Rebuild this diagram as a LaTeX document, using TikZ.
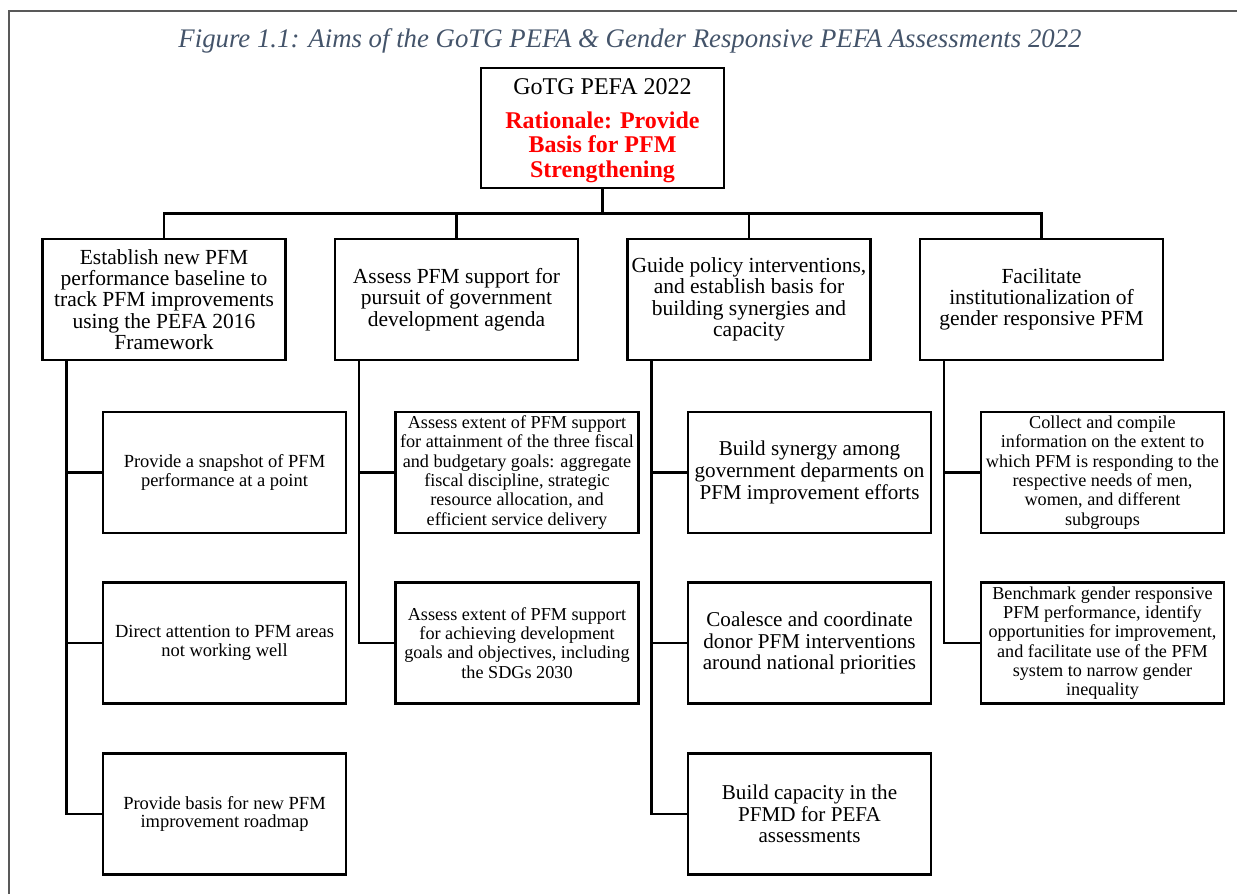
\documentclass[tikz,border=0pt]{standalone}
\usepackage{fontspec}
\setmainfont{Liberation Serif}
\usepackage{tikz}
\usetikzlibrary{positioning}
\definecolor{Caption}{HTML}{44546A}
\definecolor{Frame}{HTML}{595959}
\definecolor{Alert}{HTML}{FF0000}
\newcommand{\alert}[1]{\textcolor{Alert}{\bfseries #1}}

\begin{document}
\begin{tikzpicture}[x=1pt,y=-1pt,every node/.style={align=center,inner sep=1pt},
    box/.style={draw=black,line width=2.5pt,fill=white,minimum width=243pt,minimum height=121pt},
    aim/.style={box,font=\fontsize{21.5}{21.3}\selectfont},
    taskA/.style={box,font=\fontsize{18.5}{18.4}\selectfont},
    taskB/.style={box,font=\fontsize{18.2}{19.3}\selectfont},
    taskC/.style={box,font=\fontsize{21.1}{21.7}\selectfont},
    link/.style={draw=black,line width=2.5pt}]
      \useasboundingbox (0,0) rectangle (1237,894);
      \draw[Frame,line width=2pt] (9,894) -- (9,11) -- (1237,11);
      \node[font=\itshape\fontsize{26.8}{28}\selectfont,text=Caption] (cap) at (630,41)
        {Figure 1.1: Aims of the GoTG PEFA \& Gender Responsive PEFA Assessments 2022};

      \node[box,minimum height=120pt,text depth=0pt,font=\fontsize{24}{24.5}\selectfont] (root) at (602.5,128) {
        GoTG PEFA 2022\\[9.5pt]\alert{Rationale: Provide}\\\alert{Basis for PFM}\\\alert{Strengthening}
      };

      \node[aim] (a1) at (164,299.5) {
        Establish new PFM\\performance baseline to\\track PFM improvements\\using the PEFA 2016\\Framework
      };
      \node[aim] (a2) at (456.5,299.5) {
        Assess PFM support for\\pursuit of government\\development agenda
      };
      \node[aim] (a3) at (749,299.5) {
        Guide policy interventions,\\and establish basis for\\building synergies and\\capacity
      };
      \node[aim] (a4) at (1041.5,299.5) {
        Facilitate\\institutionalization of\\gender responsive PFM
      };

      \node[taskA] (t11) at (224.5,472.5) {Provide a snapshot of PFM\\performance at a point};
      \node[taskA] (t12) at (224.5,643) {Direct attention to PFM areas\\not working well};
      \node[taskA] (t13) at (224.5,814) {Provide basis for new PFM\\improvement roadmap};

      \node[taskB] (t21) at (517,472.5) {
        Assess extent of PFM support\\for attainment of the three fiscal\\and budgetary goals: aggregate\\fiscal discipline, strategic\\resource allocation, and\\efficient service delivery
      };
      \node[taskB] (t22) at (517,643) {
        Assess extent of PFM support\\for achieving development\\goals and objectives, including\\the SDGs 2030
      };

      \node[taskC] (t31) at (809.5,472.5) {Build synergy among\\government deparments on\\PFM improvement efforts};
      \node[taskC] (t32) at (809.5,643) {Coalesce and coordinate\\donor PFM interventions\\around national priorities};
      \node[taskC] (t33) at (809.5,814) {Build capacity in the\\PFMD for PEFA\\assessments};

      \node[taskB] (t41) at (1102.5,472.5) {
        Collect and compile\\information on the extent to\\which PFM is responding to the\\respective needs of men,\\women, and different\\subgroups
      };
      \node[taskB] (t42) at (1102.5,643) {
        Benchmark gender responsive\\PFM performance, identify\\opportunities for improvement,\\and facilitate use of the PFM\\system to narrow gender\\inequality
      };

      % tree from the rationale down to the four aims
      \foreach \x in {a1,a2,a3,a4}
        \draw[link] (root.south) -- ++(0,24) -| (\x.north);

      % spines under each aim
      \foreach \x in {1,2,3,4}
        \coordinate (p\x) at ([xshift=25pt]a\x.south west);
      \foreach \x/\y in {p1/t11,p1/t12,p1/t13,p2/t21,p2/t22,p3/t31,p3/t32,p3/t33,p4/t41,p4/t42}
        \draw[link] (\x) |- (\y.west);
\end{tikzpicture}
\end{document}
